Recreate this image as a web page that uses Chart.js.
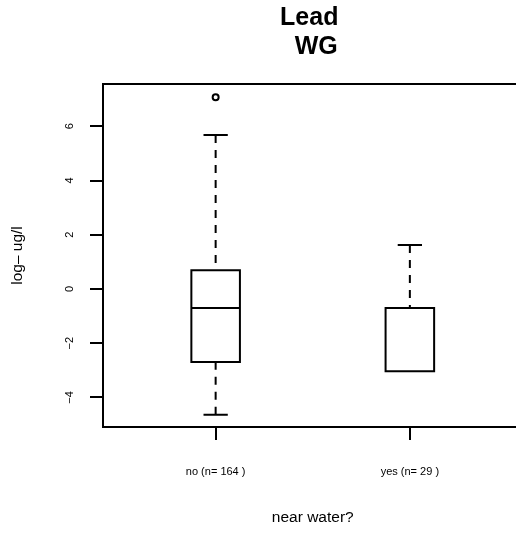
<!DOCTYPE html>
<html>
<head>
<meta charset="utf-8">
<script src="https://cdn.jsdelivr.net/npm/chart.js@4"></script>
<style>
  html, body { margin: 0; padding: 0; background: #fff; overflow: hidden; }
  #wrap { width: 530px; height: 533px; }
</style>
</head>
<body>
<div id="wrap"><canvas id="grafica" width="530" height="533"></canvas></div>
<script>
// datos (log ug/l)
const categorias = ['no (n= 164 )', 'yes (n= 29 )'];
const posiciones = [1, 2];
const q1      = [-2.69, -3.03];
const mediana = [-0.70, -3.03];
const q3      = [0.69, -0.70];
const bigoteInf = [-4.64, -3.03];
const bigoteSup = [5.68, 1.62];
const atipicos = [{x: 1, y: 7.07}];
const ticksY = [-4, -2, 0, 2, 4, 6];

const anchoCaja = 0.25; // en unidades del eje x
const fuente = 'Liberation Sans, Arial, sans-serif';

// contorno de cajas, bigotes, topes y medianas usando las escalas de chart.js
const bigotes = {
  id: 'bigotes',
  afterDatasetsDraw(chart) {
    const ctx = chart.ctx;
    const xs = chart.scales.x, ys = chart.scales.y;
    ctx.save();
    ctx.strokeStyle = '#000';
    ctx.lineWidth = 2;
    for (let i = 0; i < posiciones.length; i++) {
      const cx = xs.getPixelForValue(posiciones[i]);
      const tope = xs.getPixelForValue(posiciones[i] + anchoCaja / 4) - cx;
      const mitad = xs.getPixelForValue(posiciones[i] + anchoCaja / 2) - cx;
      // lineas punteadas, desde el extremo hacia la caja
      ctx.setLineDash([8, 7]);
      ctx.beginPath();
      if (bigoteSup[i] > q3[i]) {
        ctx.moveTo(cx, ys.getPixelForValue(bigoteSup[i]));
        ctx.lineTo(cx, ys.getPixelForValue(q3[i]));
      }
      if (bigoteInf[i] < q1[i]) {
        ctx.moveTo(cx, ys.getPixelForValue(bigoteInf[i]));
        ctx.lineTo(cx, ys.getPixelForValue(q1[i]));
      }
      ctx.stroke();
      ctx.setLineDash([]);
      ctx.beginPath();
      let y = ys.getPixelForValue(bigoteSup[i]);
      ctx.moveTo(cx - tope, y); ctx.lineTo(cx + tope, y);
      if (bigoteInf[i] < q1[i]) {
        y = ys.getPixelForValue(bigoteInf[i]);
        ctx.moveTo(cx - tope, y); ctx.lineTo(cx + tope, y);
      }
      y = ys.getPixelForValue(mediana[i]);
      ctx.moveTo(cx - mitad, y); ctx.lineTo(cx + mitad, y);
      const yt = ys.getPixelForValue(q3[i]), yb = ys.getPixelForValue(q1[i]);
      ctx.rect(cx - mitad, yt, 2 * mitad, yb - yt);
      ctx.stroke();
    }
    // marco del grafico
    const a = chart.chartArea;
    ctx.strokeRect(a.left, a.top, a.right - a.left, a.bottom - a.top);
    ctx.restore();
  }
};

const ctx = document.getElementById('grafica').getContext('2d');
const grafica = new Chart(ctx, {
  type: 'bar',
  data: {
    datasets: [{
      type: 'bar',
      data: posiciones.map((p, i) => ({x: p, y: [q1[i], q3[i]]})),
      backgroundColor: '#fff',
      borderWidth: 0,
      barThickness: 48
    }, {
      type: 'scatter',
      data: atipicos,
      pointStyle: 'circle',
      pointRadius: 3,
      borderColor: '#000',
      borderWidth: 2,
      backgroundColor: 'rgba(0,0,0,0)'
    }]
  },
  options: {
    responsive: false,
    animation: false,
    events: [],
    layout: { padding: { left: 0, top: 0, bottom: 0, right: 7.5 } },
    plugins: {
      legend: { display: false },
      tooltip: { enabled: false },
      title: {
        display: true,
        fullSize: false,
        text: ['Lead ', ' WG'],
        color: '#000',
        font: { family: fuente, size: 25, weight: 'bold', lineHeight: '29px' },
        padding: { top: 3.5, bottom: 22.5 }
      }
    },
    scales: {
      x: {
        type: 'linear',
        offset: false,
        min: 0.42,
        max: 2.58,
        afterBuildTicks: s => { s.ticks = posiciones.map(v => ({value: v})); },
        afterFit: s => { s.height = 106; },
        border: { display: false },
        grid: { offset: false, drawOnChartArea: false, tickLength: 13, color: '#000', lineWidth: 2 },
        ticks: {
          color: '#000',
          font: { family: fuente, size: 11 },
          padding: 25,
          maxRotation: 0,
          autoSkip: false,
          callback: (v) => categorias[posiciones.indexOf(v)]
        },
        title: {
          display: true,
          text: 'near water?',
          color: '#000',
          font: { family: fuente, size: 15.5 },
          padding: { top: 0, bottom: 5.7 }
        }
      },
      y: {
        min: -5.09,
        max: 7.56,
        afterBuildTicks: s => { s.ticks = ticksY.map(v => ({value: v})); },
        afterFit: s => { s.width = 103; },
        border: { display: false },
        grid: { drawOnChartArea: false, tickLength: 13, color: '#000', lineWidth: 2 },
        ticks: {
          color: '#000',
          font: { family: fuente, size: 11 },
          minRotation: 90,
          maxRotation: 90,
          crossAlign: 'center',
          padding: 14,
          callback: (v) => String(v).replace('-', '\u2212')
        },
        title: {
          display: true,
          text: 'log\u2013 ug/l',
          color: '#000',
          font: { family: fuente, size: 15.5 },
          padding: { top: 8.2, bottom: 0 }
        }
      }
    }
  },
  plugins: [bigotes]
});
</script>
</body>
</html>
